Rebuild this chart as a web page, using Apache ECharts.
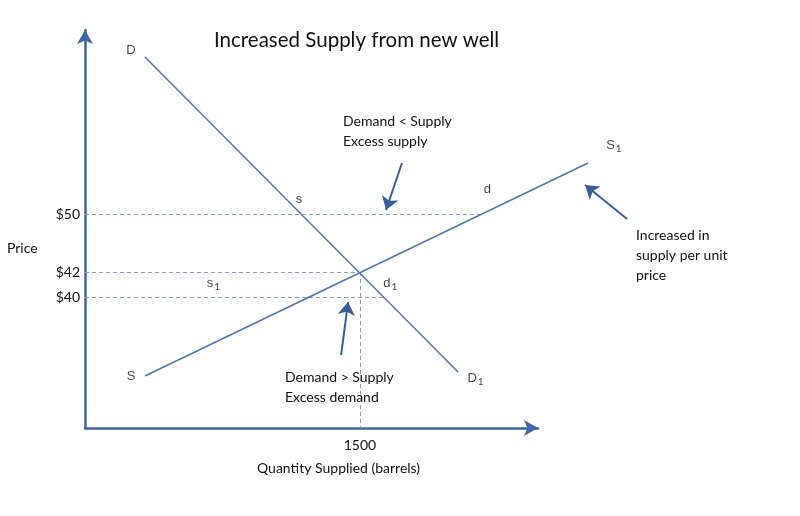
<!DOCTYPE html>
<html><head><meta charset="utf-8">
<script src="https://cdn.jsdelivr.net/npm/echarts@6/dist/echarts.min.js"></script>
<style>html,body{margin:0;padding:0;background:#fff}#c{width:800px;height:516px}</style>
</head><body><div id="c"></div>
<script>
// ---- data (diagram units: quantity in barrels, price in diagram price units) ----
const qtyMax = 2471;
const priceMax = 39.8;
const demandQty = [327, 2035];
const demandPrice = [37.1, 5.6];
const supplyQty = [327, 2744];
const supplyPrice = [5.2, 26.5];
const priceLevels = [21.4, 15.6, 13.1];
const priceLabels = ['$50', '$42', '$40'];
const guideEndQty = [2164, 1500, 1628];
const eqQty = 1500;
const qtyTicks = [1500];
const qtyLabels = ['1500'];
const curveLabelMain = ['D', 's', 'd', 'S', 'S', 'D', 'd', 's'];
const curveLabelSub = ['', '', '', '1', '', '1', '1', '1'];
const curveLabelQty = [251, 1167, 2195, 2885, 251, 2130, 1665, 700];
const curveLabelPrice = [37.6, 22.7, 23.7, 28.1, 5.0, 4.8, 14.3, 14.3];
const arrowFromQty = [1729, 1397, 2957];
const arrowFromPrice = [26.5, 7.3, 20.9];
const arrowToQty = [1642, 1435, 2728];
const arrowToPrice = [21.8, 12.6, 24.3];

const CAL = 'Lato, "Open Sans", sans-serif';
const ARI = '"Liberation Sans", Arial, sans-serif';
const lineBlue = '#5076a8';
const axisBlue = '#3f66a0';
const dashCol = '#8a9cbb';
const txt = '#111';

const chart = echarts.init(document.getElementById('c'));

const series = [];
series.push({
  type: 'lines', coordinateSystem: 'cartesian2d', clip: false, name: 'Demand & Supply',
  lineStyle: { color: lineBlue, width: 1.5, opacity: 1 },
  data: [
    { coords: demandQty.map((q, i) => [q, demandPrice[i]]) },
    { coords: supplyQty.map((q, i) => [q, supplyPrice[i]]) }
  ],
  z: 3
});
series.push({
  type: 'lines', coordinateSystem: 'cartesian2d', clip: false,
  lineStyle: { color: dashCol, width: 1, type: [4, 3], opacity: 1 },
  data: priceLevels.map((p, i) => ({ coords: [[0, p], [guideEndQty[i], p]] }))
    .concat([{ coords: [[eqQty, priceLevels[1]], [eqQty, 0]] }]),
  z: 2
});
series.push({
  type: 'lines', coordinateSystem: 'cartesian2d', clip: false,
  symbol: ['none', 'arrow'], symbolSize: [11, 13],
  lineStyle: { color: '#3a5f98', width: 2, opacity: 1 },
  data: arrowFromQty.map((q, i) => ({ coords: [[q, arrowFromPrice[i]], [arrowToQty[i], arrowToPrice[i]]] })),
  z: 4
});
series.push({
  type: 'scatter', clip: false, symbolSize: 0, silent: true,
  data: curveLabelMain.map((t, i) => ({ value: [curveLabelQty[i], curveLabelPrice[i]], name: t, sub: curveLabelSub[i] })),
  label: {
    show: true, position: 'inside',
    formatter: p => '{m|' + p.data.name + '}' + (p.data.sub ? '{s|' + p.data.sub + '}' : ''),
    rich: {
      m: { color: txt, fontSize: 13, fontFamily: ARI, verticalAlign: 'top', lineHeight: 16 },
      s: { color: txt, fontSize: 10, fontFamily: CAL, verticalAlign: 'top', lineHeight: 12, padding: [5, 0, 0, 1] }
    }
  },
  z: 5
});

chart.setOption({
  animation: false,
  backgroundColor: '#fff',
  title: {
    text: 'Increased Supply from new well', left: 209, top: 25,
    textStyle: { fontFamily: CAL, fontSize: 20.5, fontWeight: 'normal', color: txt }
  },
  grid: { left: 85, top: 30, width: 453, height: 398 },
  xAxis: {
    type: 'value', min: 0, max: qtyMax,
    axisLine: { show: true, symbol: ['none', 'arrow'], symbolSize: [12, 14], lineStyle: { color: axisBlue, width: 2.5 } },
    axisTick: { show: false }, splitLine: { show: false },
    axisLabel: { customValues: qtyTicks, formatter: v => qtyLabels[qtyTicks.indexOf(v)] || '', margin: 10, color: txt, fontSize: 14, fontFamily: CAL }
  },
  yAxis: {
    type: 'value', min: 0, max: priceMax,
    axisLine: { show: true, symbol: ['none', 'arrow'], symbolSize: [12, 14], lineStyle: { color: axisBlue, width: 2.5 } },
    axisTick: { show: false }, splitLine: { show: false },
    axisLabel: { customValues: priceLevels, formatter: v => priceLabels[priceLevels.indexOf(v)] || '', margin: 5, color: txt, fontSize: 14, fontFamily: CAL }
  },
  graphic: [
    { type: 'text', left: 343, top: 111, style: { text: 'Demand < Supply\nExcess supply', font: '14px ' + CAL, fill: txt, lineHeight: 20 } },
    { type: 'text', left: 285, top: 367, style: { text: 'Demand > Supply\nExcess demand', font: '14px ' + CAL, fill: txt, lineHeight: 20 } },
    { type: 'text', left: 636, top: 225, style: { text: 'Increased in\nsupply per unit\nprice', font: '14px ' + CAL, fill: txt, lineHeight: 20 } },
    { type: 'text', left: 7, top: 241, style: { text: 'Price', font: '14px ' + CAL, fill: txt } },
    { type: 'text', left: 257, top: 461, style: { text: 'Quantity Supplied (barrels)', font: '14px ' + CAL, fill: txt } }
  ],
  series: series
});
</script></body></html>
